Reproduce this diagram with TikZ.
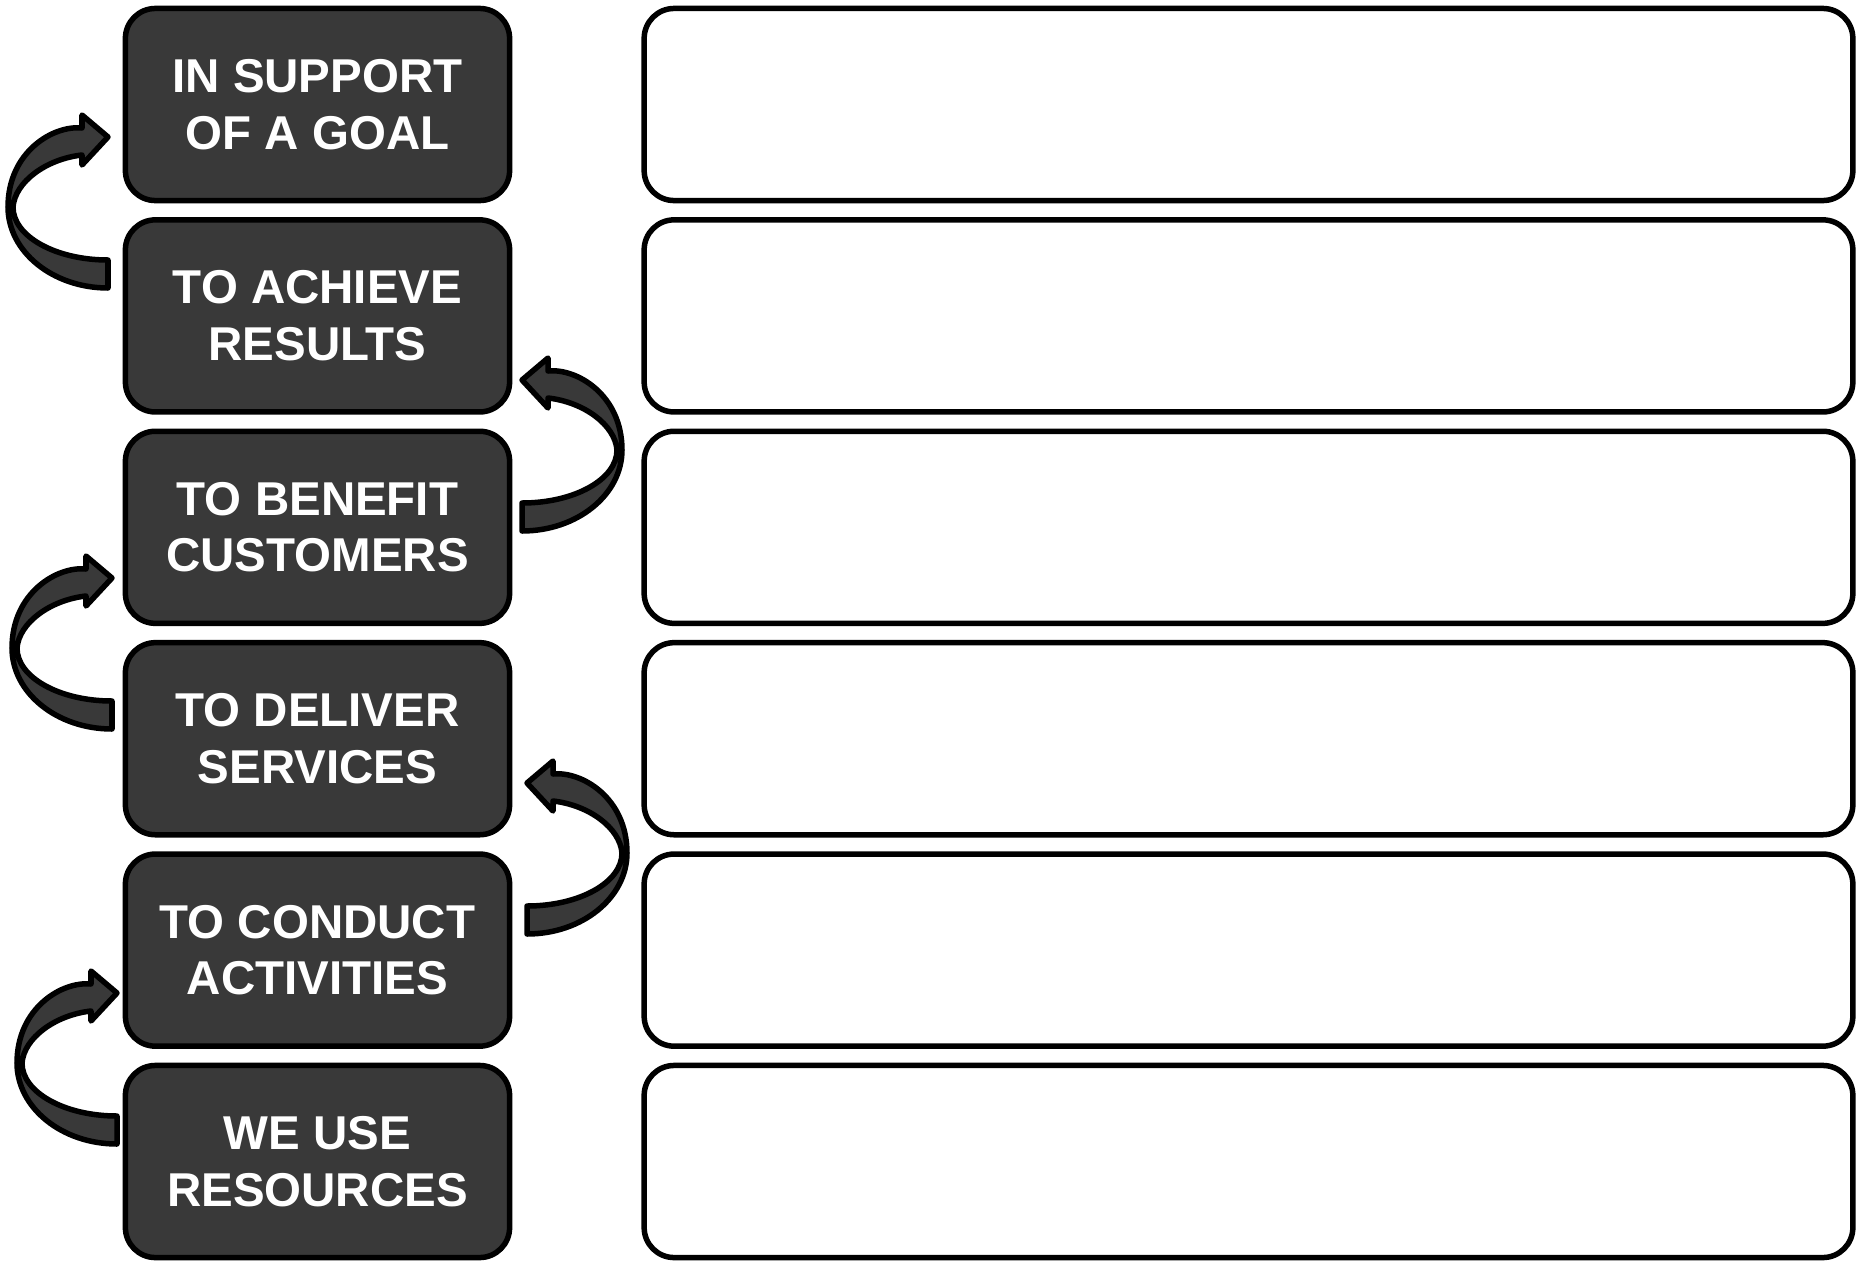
\documentclass[tikz,border=0pt]{standalone}
\usepackage{fontspec}
\setmainfont{Liberation Sans}
\definecolor{boxfill}{RGB}{57,57,57}
\tikzset{
  labelbox/.style={draw=black, fill=boxfill, line width=0.055cm, rounded corners=0.3cm,
    minimum width=3.84cm, minimum height=1.92cm, inner sep=0pt, text=white,
    font=\fontsize{13.5}{16.1}\selectfont\bfseries, align=center},
  blankbox/.style={draw=black, fill=white, line width=0.055cm, rounded corners=0.3cm,
    minimum width=12.08cm, minimum height=1.92cm, inner sep=0pt},
  curvearrow/.style={draw=black, fill=boxfill, line width=0.055cm, line join=round},
  pics/turnarrow/.style={code={
    \path[curvearrow] (0,0) -- (-26,-22) -- (-26,-9)
      .. controls (-55,-12) and (-100,15) .. (-100,70)
      .. controls (-100,114.7) and (-55.2,151) .. (0,151)
      -- (0,123)
      .. controls (-52.5,123) and (-95,99.3) .. (-95,70)
      .. controls (-93,45) and (-62,22) .. (-26,18)
      -- (-26,28) -- cycle;
  }}
}
\begin{document}
\begin{tikzpicture}[x=0.01cm, y=-0.01cm]
  \useasboundingbox (0,0) rectangle (1860,1260);
  % left label boxes
  \node[labelbox] (l1) at (317.5,104.5) {IN SUPPORT\\OF A GOAL};
  \node[labelbox] (l2) at (317.5,315.9) {TO ACHIEVE\\RESULTS};
  \node[labelbox] (l3) at (317.5,527.3) {TO BENEFIT\\CUSTOMERS};
  \node[labelbox] (l4) at (317.5,738.7) {TO DELIVER\\SERVICES};
  \node[labelbox] (l5) at (317.5,950.1) {TO CONDUCT\\ACTIVITIES};
  \node[labelbox] (l6) at (317.5,1161.5) {WE USE\\RESOURCES};
  % right blank boxes
  \node[blankbox] (r1) at (1248.5,104.5) {};
  \node[blankbox] (r2) at (1248.5,315.9) {};
  \node[blankbox] (r3) at (1248.5,527.3) {};
  \node[blankbox] (r4) at (1248.5,738.7) {};
  \node[blankbox] (r5) at (1248.5,950.1) {};
  \node[blankbox] (r6) at (1248.5,1161.5) {};
  % curved arrows, left side
  \pic (a1) at (108,137) {turnarrow};
  \pic (a3) at (112,578) {turnarrow};
  \pic (a5) at (117,993) {turnarrow};
  % curved arrows, right side (mirrored)
  \pic[xscale=-1] (a2) at (522,380) {turnarrow};
  \pic[xscale=-1] (a4) at (527,783) {turnarrow};
\end{tikzpicture}
\end{document}
